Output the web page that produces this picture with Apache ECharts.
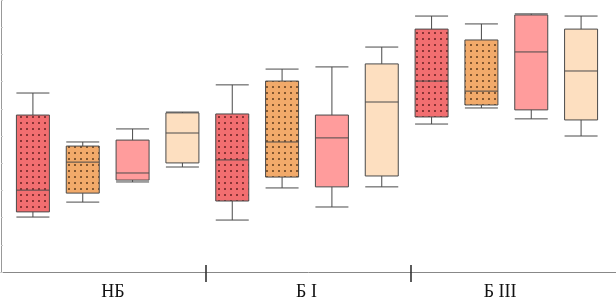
<!DOCTYPE html>
<html><head><meta charset="utf-8">
<script src="https://cdn.jsdelivr.net/npm/echarts@6/dist/echarts.min.js"></script>
<style>html,body{margin:0;padding:0;background:#fff}#c{width:616px;height:303px}</style>
</head><body><div id="c"></div>
<script>
// Group (category) labels
const groups = ['НБ', 'Б I', 'Б III'];
// Each series: [min, Q1, median, Q3, max] for each group
const seriesA = [[20.2, 22.1, 30.1, 57.7, 65.8], [19.1, 26.1, 41.2, 58.1, 68.8], [54.4, 57.0, 70.2, 89.3, 94.1]];
const seriesB = [[25.7, 29.0, 40.4, 46.3, 47.8], [30.9, 34.9, 47.8, 70.2, 74.6], [60.3, 61.4, 66.5, 85.3, 91.2]];
const seriesC = [[33.1, 33.8, 36.4, 48.5, 52.6], [23.9, 31.3, 49.3, 57.7, 75.4], [56.3, 59.6, 80.9, 94.5, 94.9]];
const seriesD = [[38.6, 40.1, 51.1, 58.5, 58.8], [31.3, 35.3, 62.5, 76.5, 82.7], [50.0, 55.9, 73.9, 89.3, 94.1]];
const allSeries = [seriesA, seriesB, seriesC, seriesD];

function pattern(bg, dot) {
  const c = document.createElement('canvas');
  c.width = 6; c.height = 6;
  const x = c.getContext('2d');
  x.fillStyle = bg; x.fillRect(0, 0, 6, 6);
  x.fillStyle = dot; x.beginPath(); x.arc(3, 3, 0.95, 0, Math.PI * 2); x.fill();
  return { image: c, repeat: 'repeat' };
}
const fills = [
  pattern('#F26E70', '#5e1e1e'),
  pattern('#F2AA6A', '#553518'),
  '#FF9C9C',
  '#FDDFC0'
];

const slotCats = [];
const boxData = [];
groups.forEach((g, gi) => allSeries.forEach((s, si) => {
  slotCats.push(g + '-' + si);
  boxData.push({ value: [gi * 4 + si].concat(s[gi]), itemStyle: { color: fills[si] } });
}));

const chart = echarts.init(document.getElementById('c'), null, { renderer: 'canvas' });
const gridDims = { top: 0, bottom: 31 };
const hiddenY = (gi) => ({ type: 'value', gridIndex: gi, min: 0, max: 100, show: false });
const tickAxis = (gi, inside, len) => ({
  type: 'category', gridIndex: gi, data: [''],
  axisLine: { show: false },
  axisTick: { show: true, inside: inside, length: len, lineStyle: { color: '#333', width: 1.6 } },
  axisLabel: { show: false }
});

chart.setOption({
  animation: false,
  grid: [
    Object.assign({ left: 1, right: 0 }, gridDims),
    Object.assign({ left: 206, right: 205 }, gridDims),
    Object.assign({ left: 206, right: 205 }, gridDims),
    Object.assign({ left: 8, right: 10 }, gridDims),
    Object.assign({ left: 16, right: 19 }, gridDims)
  ],
  xAxis: [
    { type: 'category', gridIndex: 0, data: groups,
      axisLine: { show: true, lineStyle: { color: '#888', width: 1 } },
      axisTick: { show: false },
      axisLabel: { show: false } },
    tickAxis(1, false, 10),
    tickAxis(2, true, 7),
    { type: 'category', gridIndex: 3, data: slotCats, show: false },
    { type: 'category', gridIndex: 4, data: groups,
      axisLine: { show: false }, axisTick: { show: false },
      axisLabel: { show: true, margin: 11, color: '#111', fontFamily: 'Liberation Serif', fontSize: 18 } }
  ],
  yAxis: [
    { type: 'value', gridIndex: 0, min: 0, max: 100, interval: 10,
      axisLine: { show: true, lineStyle: { color: '#999' } },
      axisTick: { show: true, inside: true, length: 2, lineStyle: { color: '#ccc' } },
      axisLabel: { show: false }, splitLine: { show: false } },
    hiddenY(1), hiddenY(2), hiddenY(3), hiddenY(4)
  ],
  series: [{
    type: 'boxplot',
    xAxisIndex: 3, yAxisIndex: 3,
    boxWidth: [33, 33],
    encode: { x: 0, y: [1, 2, 3, 4, 5] },
    data: boxData,
    itemStyle: { borderColor: '#4a4a4a', borderWidth: 1 },
    emphasis: { disabled: true }
  }]
});
</script></body></html>
